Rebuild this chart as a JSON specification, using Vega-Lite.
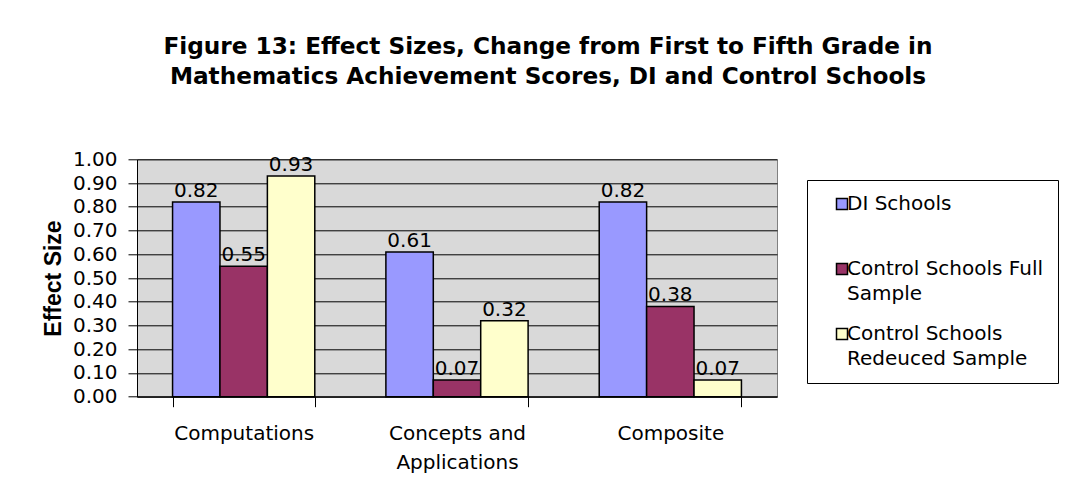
{
  "$schema": "https://vega.github.io/schema/vega-lite/v6.json",
  "width": 640,
  "height": 237.4,
  "autosize": {"type": "none"},
  "padding": {"left": 137, "top": 159.3, "right": 294, "bottom": 100.3},
  "background": "white",
  "title": {
    "text": ["Figure 13: Effect Sizes, Change from First to Fifth Grade in", "Mathematics Achievement Scores, DI and Control Schools"],
    "font": "DejaVu Sans",
    "fontSize": 23.2,
    "fontWeight": "bold",
    "color": "black",
    "lineHeight": 30,
    "anchor": "middle",
    "frame": "group",
    "dx": 91,
    "offset": 60
  },
  "data": {
    "values": [
      {"category": "Computations", "series": "DI Schools", "value": 0.82},
      {"category": "Computations", "series": "Control Schools Full Sample", "value": 0.55},
      {"category": "Computations", "series": "Control Schools Redeuced Sample", "value": 0.93},
      {"category": "Concepts and Applications", "series": "DI Schools", "value": 0.61},
      {"category": "Concepts and Applications", "series": "Control Schools Full Sample", "value": 0.07},
      {"category": "Concepts and Applications", "series": "Control Schools Redeuced Sample", "value": 0.32},
      {"category": "Composite", "series": "DI Schools", "value": 0.82},
      {"category": "Composite", "series": "Control Schools Full Sample", "value": 0.38},
      {"category": "Composite", "series": "Control Schools Redeuced Sample", "value": 0.07}
    ]
  },
  "encoding": {
    "x": {
      "field": "category",
      "type": "nominal",
      "sort": ["Computations", "Concepts and Applications", "Composite"],
      "scale": {"paddingInner": 0.3333, "paddingOuter": 0.1667},
      "axis": {
        "title": null,
        "labelAngle": 0,
        "labelFont": "DejaVu Sans",
        "labelFontSize": 20,
        "labelColor": "black",
        "labelLineHeight": 29,
        "labelPadding": 16.5,
        "labelExpr": "datum.label == 'Concepts and Applications' ? ['Concepts and', 'Applications'] : datum.label",
        "tickBand": "extent",
        "tickSize": 10,
        "tickColor": "black",
        "domainColor": "black",
        "domainWidth": 1,
        "grid": false
      }
    },
    "xOffset": {
      "field": "series",
      "type": "nominal",
      "sort": ["DI Schools", "Control Schools Full Sample", "Control Schools Redeuced Sample"],
      "scale": {"paddingInner": 0, "paddingOuter": 0}
    },
    "y": {
      "field": "value",
      "type": "quantitative",
      "scale": {"domain": [0, 1], "nice": false},
      "axis": {
        "title": "Effect Size",
        "titleFont": "Liberation Sans",
        "titleFontSize": 23,
        "titleFontWeight": "bold",
        "titleColor": "black",
        "titlePadding": 7,
        "values": [0, 0.1, 0.2, 0.3, 0.4, 0.5, 0.6, 0.7, 0.8, 0.9, 1.0],
        "format": ".2f",
        "labelFont": "DejaVu Sans",
        "labelFontSize": 20,
        "labelColor": "black",
        "labelPadding": 11,
        "tickSize": 9,
        "tickColor": "black",
        "domainColor": "black",
        "grid": true,
        "gridColor": "black",
        "gridWidth": 1,
        "gridOpacity": 1
      }
    }
  },
  "layer": [
    {
      "mark": {"type": "bar", "stroke": "black", "strokeWidth": 1.5},
      "encoding": {
        "color": {
          "field": "series",
          "type": "nominal",
          "sort": ["DI Schools", "Control Schools Full Sample", "Control Schools Redeuced Sample"],
          "scale": {
            "domain": ["DI Schools", "Control Schools Full Sample", "Control Schools Redeuced Sample"],
            "range": ["#9999FF", "#993366", "#FFFFCC"]
          },
          "legend": {
            "title": null,
            "orient": "none",
            "legendX": 670,
            "legendY": 20.7,
            "padding": 14,
            "strokeColor": "black",
            "fillColor": "white",
            "symbolType": "square",
            "symbolSize": 121,
            "symbolStrokeColor": "black",
            "symbolStrokeWidth": 1.5,
            "symbolOpacity": 1,
            "symbolOffset": 11,
            "labelFont": "DejaVu Sans",
            "labelFontSize": 20,
            "labelColor": "black",
            "labelOffset": -5,
            "labelLimit": 400,
            "labelBaseline": "middle",
            "rowPadding": 20,
            "encode": {"labels": {"update": {"lineHeight": {"value": 24.5}}}},
            "labelExpr": "datum.label == 'Control Schools Full Sample' ? ['Control Schools Full', 'Sample'] : datum.label == 'Control Schools Redeuced Sample' ? ['Control Schools', 'Redeuced Sample'] : [datum.label, ' ']"
          }
        }
      }
    },
    {
      "mark": {"type": "text", "baseline": "alphabetic", "dy": -5, "font": "DejaVu Sans", "fontSize": 20, "color": "black"},
      "encoding": {
        "text": {"field": "value", "type": "quantitative", "format": ".2f"}
      }
    }
  ],
  "config": {
    "view": {"fill": "#D9D9D9", "stroke": "#808080", "strokeWidth": 1}
  }
}
